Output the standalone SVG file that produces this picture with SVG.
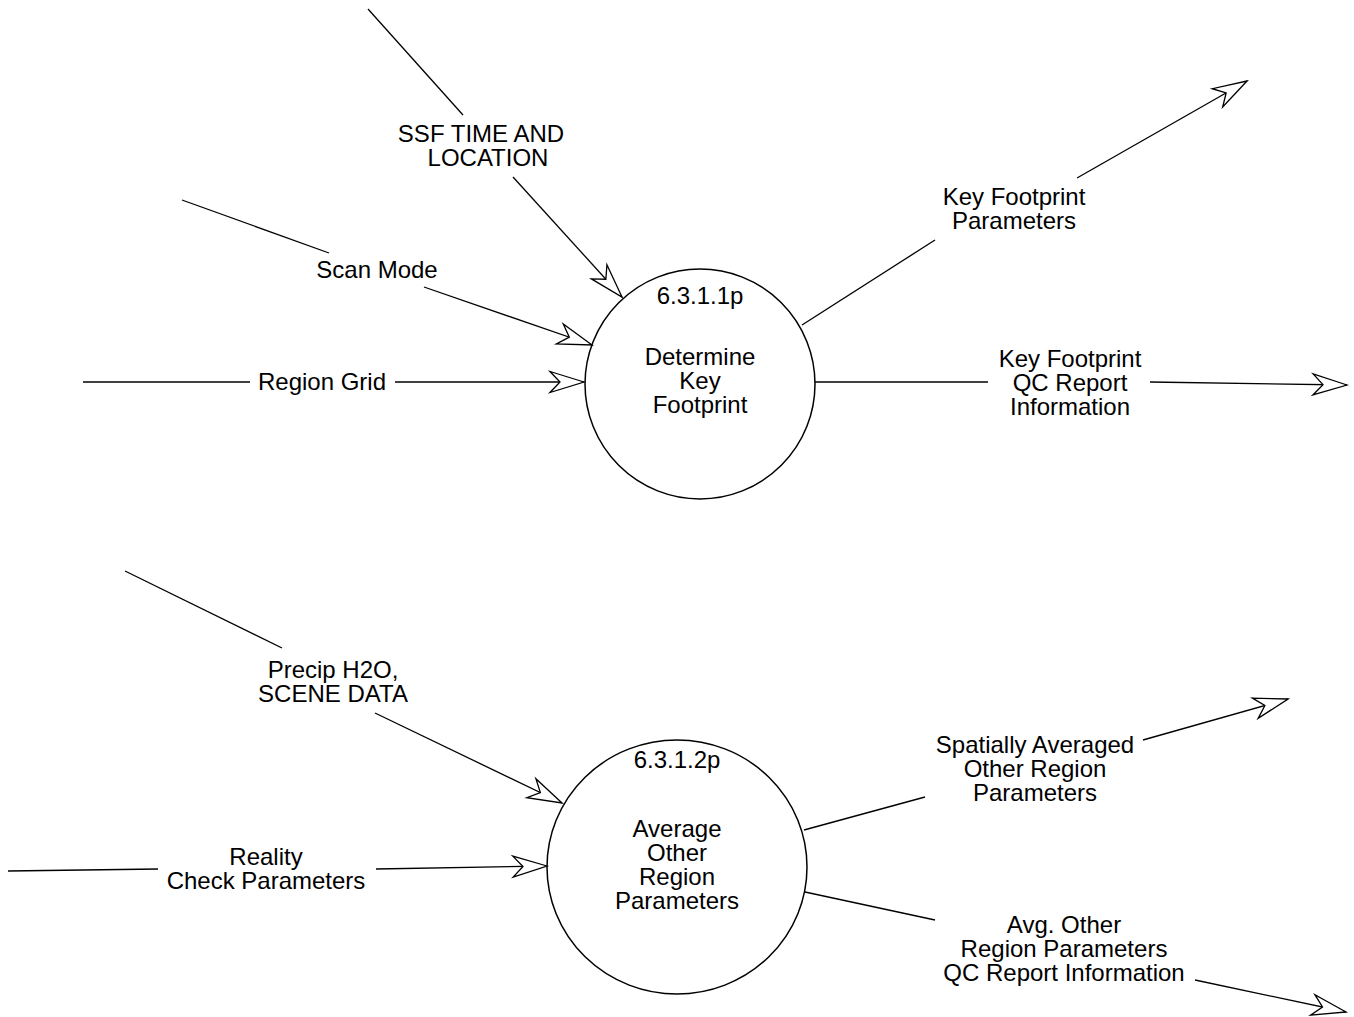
<svg xmlns="http://www.w3.org/2000/svg" width="1354" height="1017" viewBox="0 0 1354 1017">
  <style>
    .bubble { fill: #ffffff; stroke: #000000; stroke-width: 1.5; }
    .flow { fill: none; stroke: #000000; stroke-width: 1.3; }
    .lbl { font-family: "Liberation Sans", Arial, Helvetica, sans-serif; font-size: 24px; fill: #000000; text-anchor: middle; }
  </style>
  <defs>
    <!-- open notched arrowhead used at the end of each data flow -->
    <marker id="head" markerUnits="userSpaceOnUse" markerWidth="40" markerHeight="26" viewBox="-36 -13 38 26" refX="0" refY="0" orient="auto">
      <path d="M0,0 L-34,-10.5 L-24,0 L-34,10.5 Z" fill="#ffffff" stroke="#000000" stroke-width="1.3" stroke-linejoin="miter"/>
    </marker>
  </defs>

  <!-- process bubbles -->
  <g id="p6-3-1-1p">
    <circle class="bubble" cx="700" cy="384" r="115"/>
    <text class="lbl" x="700" y="304">6.3.1.1p</text>
    <text class="lbl" x="700" y="365">Determine</text>
    <text class="lbl" x="700" y="389">Key</text>
    <text class="lbl" x="700" y="413">Footprint</text>
  </g>
  <g id="p6-3-1-2p">
    <ellipse class="bubble" cx="677" cy="867" rx="130" ry="127"/>
    <text class="lbl" x="677" y="768">6.3.1.2p</text>
    <text class="lbl" x="677" y="837">Average</text>
    <text class="lbl" x="677" y="861">Other</text>
    <text class="lbl" x="677" y="885">Region</text>
    <text class="lbl" x="677" y="909">Parameters</text>
  </g>

  <!-- data flows -->
  <g id="flows">
    <g id="f-ssf">
      <line class="flow" x1="368" y1="9" x2="463" y2="115"/>
      <line class="flow" x1="513" y1="177" x2="622" y2="297" marker-end="url(#head)"/>
      <text class="lbl" x="481" y="142">SSF TIME AND</text>
      <text class="lbl" x="488" y="166">LOCATION</text>
    </g>
    <g id="f-scan">
      <line class="flow" x1="182" y1="200" x2="329" y2="253"/>
      <line class="flow" x1="424" y1="287" x2="592" y2="345" marker-end="url(#head)"/>
      <text class="lbl" x="377" y="278">Scan Mode</text>
    </g>
    <g id="f-grid">
      <line class="flow" x1="83" y1="382" x2="250" y2="382"/>
      <line class="flow" x1="395" y1="382" x2="584" y2="382" marker-end="url(#head)"/>
      <text class="lbl" x="322" y="390">Region Grid</text>
    </g>
    <g id="f-kfp">
      <line class="flow" x1="802" y1="325" x2="935" y2="240"/>
      <line class="flow" x1="1077" y1="178" x2="1247" y2="81" marker-end="url(#head)"/>
      <text class="lbl" x="1014" y="205">Key Footprint</text>
      <text class="lbl" x="1014" y="229">Parameters</text>
    </g>
    <g id="f-kfqc">
      <line class="flow" x1="815" y1="382" x2="988" y2="382"/>
      <line class="flow" x1="1150" y1="382" x2="1347" y2="385" marker-end="url(#head)"/>
      <text class="lbl" x="1070" y="367">Key Footprint</text>
      <text class="lbl" x="1070" y="391">QC Report</text>
      <text class="lbl" x="1070" y="415">Information</text>
    </g>
    <g id="f-precip">
      <line class="flow" x1="125" y1="571" x2="282" y2="648"/>
      <line class="flow" x1="375" y1="713" x2="562" y2="803" marker-end="url(#head)"/>
      <text class="lbl" x="333" y="678">Precip H2O,</text>
      <text class="lbl" x="333" y="702">SCENE DATA</text>
    </g>
    <g id="f-reality">
      <line class="flow" x1="8" y1="871" x2="158" y2="869"/>
      <line class="flow" x1="376" y1="869" x2="547" y2="866" marker-end="url(#head)"/>
      <text class="lbl" x="266" y="865">Reality</text>
      <text class="lbl" x="266" y="889">Check Parameters</text>
    </g>
    <g id="f-spatial">
      <line class="flow" x1="804" y1="830" x2="925" y2="797"/>
      <line class="flow" x1="1143" y1="740" x2="1288" y2="699" marker-end="url(#head)"/>
      <text class="lbl" x="1035" y="753">Spatially Averaged</text>
      <text class="lbl" x="1035" y="777">Other Region</text>
      <text class="lbl" x="1035" y="801">Parameters</text>
    </g>
    <g id="f-avgqc">
      <line class="flow" x1="805" y1="892" x2="935" y2="920"/>
      <line class="flow" x1="1195" y1="980" x2="1346" y2="1012" marker-end="url(#head)"/>
      <text class="lbl" x="1064" y="933">Avg. Other</text>
      <text class="lbl" x="1064" y="957">Region Parameters</text>
      <text class="lbl" x="1064" y="981">QC Report Information</text>
    </g>
  </g>
</svg>
